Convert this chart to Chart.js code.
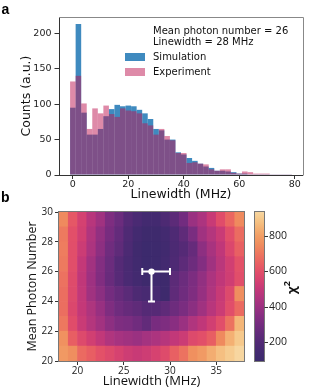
<!DOCTYPE html>
<html><head><meta charset="utf-8">
<script src="https://cdn.jsdelivr.net/npm/chart.js@4.4.1/dist/chart.umd.min.js"></script>
<style>
html,body{margin:0;padding:0;background:#fff;}
#wrap{position:relative;width:311px;height:391px;overflow:hidden;background:#fff;}
canvas{position:absolute;left:0;top:0;}
</style></head>
<body>
<div id="wrap">
<canvas id="ca" width="311" height="391"></canvas>
<canvas id="cb" width="311" height="391"></canvas>
</div>
<script>
// ---------- Panel a: histogram data ----------
const binCenters = [0,2,4,6,8,10,12,14,16,18,20,22,24,26,28,30,32,34,36,38,40,42,44,46,48,50,52,54,56,58,60,62,64,66,68,70,72,74,76,78];
const simCounts  = [95,213,88,57,57,65,83,93,99,97,98,97,92,87,79,65,63,50,50,32,29,24,20,16,12,10,6,6,5,4,2,2,1,1,1,1,0.5,0.5,0.5,0.5];
const expCounts  = [132,140,101,65,94,87,98,86,82,94,91,90,87,73,70,57,65,55,49,31,31,17,18,16,15,8,6,8,8,3,2,5,4,2,2,2,1,1,1,1];
const histXTicks = [0,20,40,60,80];
const histYTicks = [0,50,100,150,200];
const legendInfo = ['Mean photon number = 26', 'Linewidth = 28 MHz'];
const seriesNames = ['Simulation', 'Experiment'];

// ---------- Panel b: chi-square map data ----------
const lwCells = [18,19,20,21,22,23,24,25,26,27,28,29,30,31,32,33,34,35,36,37];   // left edges (MHz)
const nCells  = [20,21,22,23,24,25,26,27,28,29];                                  // bottom edges
const chi2 = [ // row for photon number 20 (bottom) ... 29 (top)
  [785,755,670,640,605,580,550,525,510,525,550,585,645,690,760,790,835,875,905,936],
  [765,640,580,535,495,450,425,410,395,420,440,465,495,520,580,600,640,745,840,900],
  [705,590,515,460,415,365,325,315,290,250,310,325,355,395,450,490,535,595,690,855],
  [680,570,500,445,390,330,285,260,240,210,212,240,280,315,360,410,470,520,595,670],
  [680,580,495,410,360,300,260,225,180,160,155,110,240,285,330,385,450,510,580,755],
  [690,585,490,405,335,270,215,170,140,110,115,110,230,275,320,375,440,490,530,595],
  [710,595,500,415,340,275,210,165,130,100,105,140,185,235,280,340,410,475,535,605],
  [715,595,520,440,365,290,240,175,120,100,105,130,175,210,260,365,430,490,570,645],
  [710,600,535,450,375,310,255,190,140,110,110,140,185,240,315,410,460,515,595,675],
  [745,620,545,470,410,325,275,210,170,140,140,180,230,295,395,440,510,590,660,745]
];
const mapXTicks = [20,25,30,35];
const mapYTicks = [20,22,24,26,28,30];
const cbTicks = [200,400,600,800];
const chi2Range = [93, 936];
const bestLw = [28], bestLwErr = [27, 30];
const bestN = [26], bestNErr = [24, 26];

// ---------- styles ----------
const simColor = 'rgba(31,119,180,0.86)';
const expColor = 'rgba(189,21,81,0.5)';
const cmap = [
  [93,'#3b2a6c'],[150,'#452a71'],[200,'#522a75'],[250,'#622b7a'],[300,'#742c7f'],
  [350,'#872e81'],[400,'#9c3181'],[450,'#b0357e'],[500,'#c43878'],[550,'#d64270'],
  [600,'#e24f69'],[650,'#e96262'],[700,'#ed765f'],[750,'#ef8c5e'],[800,'#f29e65'],
  [850,'#f4b476'],[900,'#f6c98c'],[936,'#f7d6a0']
];
function hexRgb(h){return [parseInt(h.slice(1,3),16),parseInt(h.slice(3,5),16),parseInt(h.slice(5,7),16)];}
function colorOf(v){
  if (v <= cmap[0][0]) return cmap[0][1];
  for (let i=1;i<cmap.length;i++){
    if (v <= cmap[i][0]){
      const t=(v-cmap[i-1][0])/(cmap[i][0]-cmap[i-1][0]);
      const a=hexRgb(cmap[i-1][1]), b=hexRgb(cmap[i][1]);
      return 'rgb('+a.map((c,k)=>Math.round(c+(b[k]-c)*t)).join(',')+')';
    }
  }
  return cmap[cmap.length-1][1];
}
const FA = "'DejaVu Sans', sans-serif";
const FB = "'Open Sans', sans-serif";
const axisCol = '#333';
const frameCol = '#777';

// ---------- Panel a ----------
const panelA = {
  id:'panelA',
  afterDraw(chart){
    const {ctx, chartArea:a} = chart;
    ctx.save();
    ctx.strokeStyle = axisCol; ctx.lineWidth = 1;
    ctx.beginPath();
    ctx.moveTo(a.left+0.5, a.bottom+0.5); ctx.lineTo(a.left+0.5, a.top+0.5);
    ctx.moveTo(a.left, a.bottom+0.5); ctx.lineTo(a.right, a.bottom+0.5);
    ctx.stroke();
    ctx.strokeStyle = '#888';
    ctx.beginPath();
    ctx.moveTo(a.left, a.top+0.5); ctx.lineTo(a.right+0.5, a.top+0.5); ctx.lineTo(a.right+0.5, a.bottom+0.5);
    ctx.stroke();
    // legend
    ctx.fillStyle = '#111';
    ctx.font = "10px " + FA;
    ctx.textBaseline = 'middle'; ctx.textAlign = 'left';
    ctx.fillText(legendInfo[0], 153, 31);
    ctx.fillText(legendInfo[1], 153, 42);
    ctx.fillStyle = simColor; ctx.fillRect(125, 53, 20, 8);
    ctx.fillStyle = expColor; ctx.fillRect(125, 68, 20, 8);
    ctx.fillStyle = '#111';
    ctx.fillText(seriesNames[0], 153, 57.5);
    ctx.fillText(seriesNames[1], 153, 72.5);
    // panel letter
    ctx.font = "bold 14px 'Liberation Sans', Arial, sans-serif";
    ctx.textBaseline = 'alphabetic';
    ctx.fillStyle = '#000';
    ctx.fillText('a', 1.5, 13.5);
    ctx.restore();
  }
};

new Chart(document.getElementById('ca'), {
  type: 'bar',
  data: {
    datasets: [
      {label: seriesNames[1], data: binCenters.map((x,i)=>({x, y: expCounts[i]})), backgroundColor: expColor,
       order: 1, grouped: false, barPercentage: 1, categoryPercentage: 1, borderWidth: 0, inflateAmount: 0},
      {label: seriesNames[0], data: binCenters.map((x,i)=>({x, y: simCounts[i]})), backgroundColor: simColor,
       order: 2, grouped: false, barPercentage: 1, categoryPercentage: 1, borderWidth: 0, inflateAmount: 0}
    ]
  },
  options: {
    responsive: false, animation: false, events: [],
    layout: {padding: {left: 0, top: 17, right: 8, bottom: 189}},
    plugins: {legend: {display: false}, tooltip: {enabled: false}},
    scales: {
      x: {
        type: 'linear', min: -5, max: 83, offset: false,
        afterBuildTicks: s => { s.ticks = histXTicks.map(v => ({value: v})); },
        afterFit: s => { s.height = 27; },
        grid: {drawOnChartArea: false, offset: false, tickLength: 4, color: axisCol},
        border: {display: false},
        ticks: {font: {family: FA, size: 9.5}, color: '#222', padding: 0, maxRotation: 0},
        title: {display: true, text: 'Linewidth (MHz)', font: {family: FA, size: 12.5}, color: '#111', padding: {top: 0, bottom: 0}}
      },
      y: {
        type: 'linear', min: 0, max: 223,
        afterBuildTicks: s => { s.ticks = histYTicks.map(v => ({value: v})); },
        afterFit: s => { s.width = 59; },
        grid: {drawOnChartArea: false, tickLength: 4.5, color: axisCol},
        border: {display: false},
        ticks: {font: {family: FA, size: 9.5}, color: '#222', padding: 3},
        title: {display: true, text: 'Counts (a.u.)', font: {family: FA, size: 12.5}, color: '#111', padding: {top: 19.5, bottom: 0}}
      }
    }
  },
  plugins: [panelA]
});

// ---------- Panel b ----------
const panelB = {
  id: 'panelB',
  beforeDatasetDraw(chart, args){
    if (args.meta.type !== 'scatter') return;
    const {ctx} = chart, xs = chart.scales.x, ys = chart.scales.y;
    const px = xs.getPixelForValue(bestLw[0]), py = ys.getPixelForValue(bestN[0]);
    const x0 = xs.getPixelForValue(bestLwErr[0]), x1 = xs.getPixelForValue(bestLwErr[1]);
    const y0 = ys.getPixelForValue(bestNErr[0]), y1 = ys.getPixelForValue(bestNErr[1]);
    const cap = 3.5;
    ctx.save();
    ctx.strokeStyle = '#fff'; ctx.lineWidth = 2;
    ctx.beginPath();
    ctx.moveTo(x0, py); ctx.lineTo(x1, py);
    ctx.moveTo(x0, py-cap); ctx.lineTo(x0, py+cap);
    ctx.moveTo(x1, py-cap); ctx.lineTo(x1, py+cap);
    ctx.moveTo(px, y0); ctx.lineTo(px, y1);
    ctx.moveTo(px-cap, y0); ctx.lineTo(px+cap, y0);
    ctx.moveTo(px-cap, y1); ctx.lineTo(px+cap, y1);
    ctx.stroke();
    ctx.restore();
  },
  afterDraw(chart){
    const {ctx, chartArea: a} = chart;
    const cs = chart.scales.cb;
    ctx.save();
    // frame
    ctx.strokeStyle = frameCol; ctx.lineWidth = 1;
    ctx.strokeRect(Math.round(a.left)-0.5, Math.round(a.top)-0.5, Math.round(a.right-a.left)+1, Math.round(a.bottom-a.top)+1);
    // colorbar
    const cbL = a.right + 11, cbW = 9;
    const yTop = cs.getPixelForValue(chi2Range[1]), yBot = cs.getPixelForValue(chi2Range[0]);
    const g = ctx.createLinearGradient(0, yBot, 0, yTop);
    cmap.forEach(([v, c]) => g.addColorStop((v - chi2Range[0]) / (chi2Range[1] - chi2Range[0]), c));
    ctx.fillStyle = g;
    ctx.fillRect(cbL, yTop, cbW, yBot - yTop);
    ctx.strokeStyle = frameCol;
    ctx.strokeRect(Math.round(cbL)-0.5, Math.round(yTop)-0.5, cbW+1, Math.round(yBot-yTop)+1);
    ctx.strokeStyle = axisCol;
    ctx.fillStyle = '#222';
    ctx.font = "10.5px " + FB;
    ctx.textAlign = 'left'; ctx.textBaseline = 'middle';
    cbTicks.forEach(v => {
      const y = Math.round(cs.getPixelForValue(v)) + 0.5;
      ctx.beginPath(); ctx.moveTo(cbL + cbW + 0.5, y); ctx.lineTo(cbL + cbW + 4, y); ctx.stroke();
      ctx.fillText(String(v), cbL + cbW + 5, y);
    });
    // colorbar label chi^2
    ctx.translate(a.right + 49, (a.top + a.bottom) / 2 + 1);
    ctx.rotate(-Math.PI / 2);
    ctx.fillStyle = '#111';
    ctx.font = "bold 13px " + FB;
    const w1 = ctx.measureText('χ').width;
    ctx.font = "bold 9px " + FB;
    const w2 = ctx.measureText('2').width;
    const x0 = -(w1 + w2) / 2;
    ctx.font = "bold 13px " + FB;
    ctx.textBaseline = 'alphabetic';
    ctx.fillText('χ', x0, 3);
    ctx.font = "bold 9px " + FB;
    ctx.fillText('2', x0 + w1, -3);
    ctx.restore();
    // panel letter
    ctx.save();
    ctx.font = "bold 14px 'Liberation Sans', Arial, sans-serif";
    ctx.fillStyle = '#000';
    ctx.textBaseline = 'alphabetic';
    ctx.fillText('b', 1, 201.5);
    ctx.restore();
  }
};

const mapDatasets = nCells.map((n, r) => ({
  type: 'bar',
  data: lwCells.map(lw => ({x: lw + 0.5, y: [n, n + 1]})),
  backgroundColor: chi2[r].map(colorOf),
  borderWidth: 0, grouped: false, barPercentage: 1, categoryPercentage: 1, order: 1
}));
mapDatasets.push({
  type: 'scatter',
  data: [{x: bestLw[0], y: bestN[0]}],
  backgroundColor: '#fff', borderColor: '#fff', pointRadius: 3.2, borderWidth: 0, order: 0
});

new Chart(document.getElementById('cb'), {
  type: 'bar',
  data: {datasets: mapDatasets},
  options: {
    responsive: false, animation: false, events: [],
    layout: {padding: {left: 0, top: 212, right: 67, bottom: 2}},
    plugins: {legend: {display: false}, tooltip: {enabled: false}},
    scales: {
      x: {
        type: 'linear', min: 18, max: 38, offset: false,
        afterBuildTicks: s => { s.ticks = mapXTicks.map(v => ({value: v})); },
        afterFit: s => { s.height = 28; },
        grid: {drawOnChartArea: false, offset: false, tickLength: 4, color: axisCol},
        border: {display: false},
        ticks: {font: {family: FB, size: 10}, color: '#222', padding: 0, maxRotation: 0},
        title: {display: true, text: 'Linewidth (MHz)', font: {family: FB, size: 13}, color: '#111', padding: {top: 0, bottom: 0}}
      },
      y: {
        type: 'linear', min: 20, max: 30,
        afterBuildTicks: s => { s.ticks = mapYTicks.map(v => ({value: v})); },
        afterFit: s => { s.width = 59; },
        grid: {drawOnChartArea: false, tickLength: 4, color: axisCol},
        border: {display: false},
        ticks: {font: {family: FB, size: 10}, color: '#222', padding: 2},
        title: {display: true, text: 'Mean Photon Number', font: {family: FB, size: 12.5}, color: '#111', padding: {top: 24.5, bottom: 0}}
      },
      cb: {
        type: 'linear', axis: 'y', position: 'right', display: false,
        min: chi2Range[0], max: chi2Range[1],
        afterFit: s => { s.width = 0; }
      }
    }
  },
  plugins: [panelB]
});
</script>
</body></html>
